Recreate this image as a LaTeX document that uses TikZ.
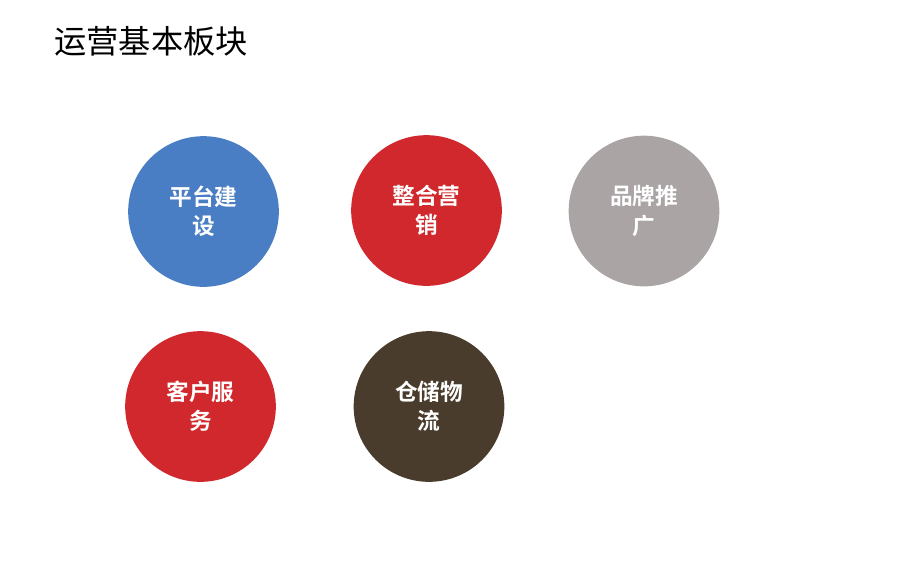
\documentclass[tikz,border=0pt]{standalone}
\usepackage{fontspec}
\newfontfamily\cjk[BoldFont={Noto Sans CJK SC Bold}]{Noto Sans CJK SC}
\definecolor{platblue}{RGB}{74,126,196}
\definecolor{mktred}{RGB}{208,40,44}
\definecolor{brandgray}{RGB}{170,164,165}
\definecolor{logibrown}{RGB}{74,60,44}
\tikzset{
    block/.style={circle, minimum size=113pt, inner sep=0pt, text=white,
        align=center, font=\cjk\bfseries\fontsize{17pt}{22pt}\selectfont},
}

\begin{document}
\begin{tikzpicture}[x=0.75pt, y=-0.75pt]
\useasboundingbox (0,0) rectangle (920,575);

\node[anchor=west, inner sep=0pt, font=\cjk\fontsize{24.2pt}{28pt}\selectfont] (title) at (54,41) {运营基本板块};

\node[block, fill=platblue] (platform) at (203.5,211.5) {平台建\\设};
\node[block, fill=mktred] (marketing) at (426.5,210.5) {整合营\\销};
\node[block, fill=brandgray] (brand) at (644,211) {品牌推\\广};
\node[block, fill=mktred] (service) at (200.5,406.5) {客户服\\务};
\node[block, fill=logibrown] (logistics) at (429,406.5) {仓储物\\流};
\end{tikzpicture}
\end{document}
